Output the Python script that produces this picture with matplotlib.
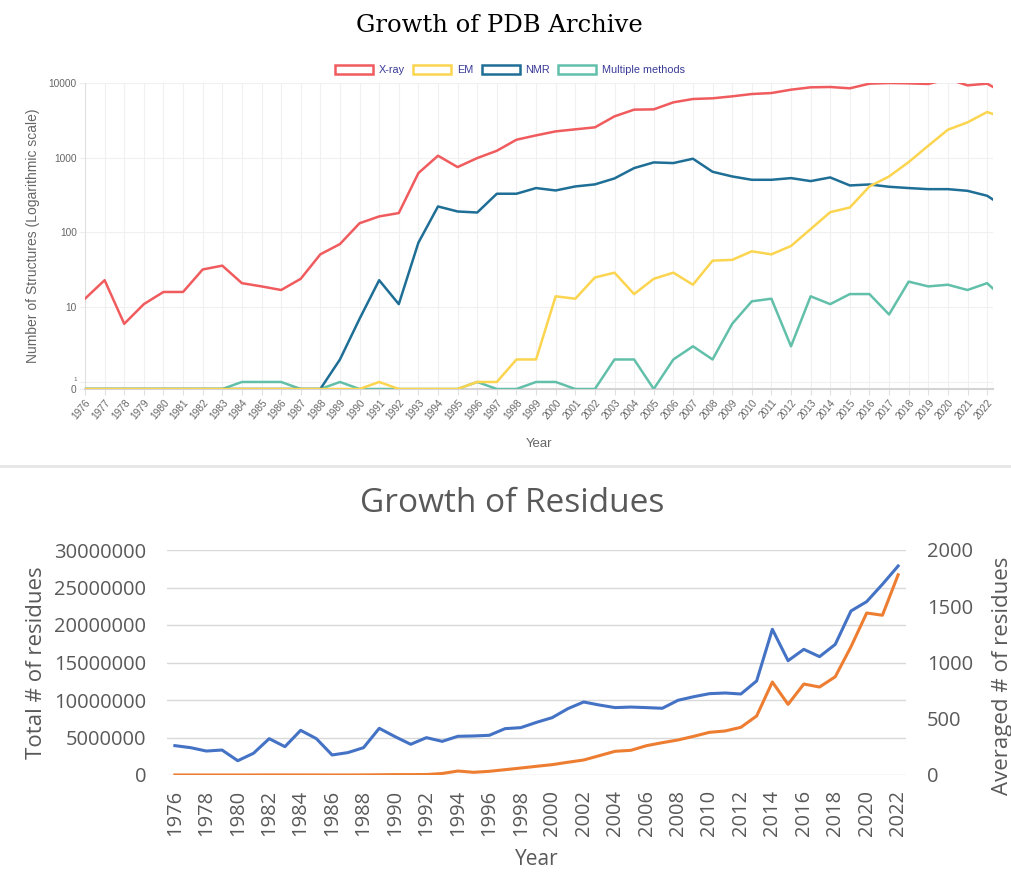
import matplotlib
matplotlib.use("Agg")
import matplotlib.pyplot as plt
import numpy as np
from matplotlib.patches import Patch
from matplotlib.lines import Line2D

# ---- data: PDB archive growth per experimental method ----
years_pdb = list(range(1976, 2024))
xray = [13, 23, 6, 11, 16, 16, 32, 36, 21, 19, 17, 24, 51, 70, 133, 164, 182,
        623, 1064, 750, 990, 1240, 1742, 1991, 2253, 2400, 2550, 3580, 4400, 4440, 5510, 6110, 6240,
        6630, 7120, 7340, 8140, 8750, 8840, 8490, 9800, 10000, 9900, 9700, 11300, 9300, 9800, 7000]
em = [0] * 15 + [1, 0, 0, 0, 0, 1, 1, 2, 2, 14, 13, 25, 29, 15, 24, 29, 20, 42, 43,
                 56, 51, 66, 111, 187, 216, 413, 562, 875, 1448, 2371, 2974, 4090, 3330]
nmr = [0] * 13 + [2, 7, 23, 11, 73, 223, 191, 185, 330, 330, 393, 365, 413, 440, 529, 727,
                  866, 849, 970, 649, 562, 507, 507, 534, 487, 545, 426, 439, 409, 393, 380,
                  380, 361, 310, 210]
multi = [0] * 8 + [1, 1, 1, 0, 0, 1, 0, 0, 0, 0, 0, 0, 1, 0, 0, 1, 1, 0, 0, 2, 2, 0, 2, 3, 2,
                   6, 12, 13, 3, 14, 11, 15, 15, 8, 22, 19, 20, 17, 21, 12]
pdb_ticks = [0, 1, 10, 100, 1000, 10000]

# ---- data: residues ----
years_res = list(range(1976, 2023))
total_res = [3400, 5600, 1300, 2400, 2000, 3100, 10300, 9100, 8700, 6500, 3200, 4800, 12600,
             30000, 48800, 51300, 63100,
             200000, 530000, 360000, 490000, 710000, 930000, 1160000, 1380000, 1700000,
             2000000, 2580000, 3160000, 3290000, 3910000, 4310000, 4670000, 5160000, 5690000,
             5870000, 6360000, 7870000, 12400000, 9420000, 12130000, 11730000, 13100000,
             17100000, 21600000, 21300000, 26700000]
avg_res = [261, 243, 213, 222, 127, 193, 323, 252, 397, 323, 178, 199, 243, 415, 341, 273,
           332, 299, 344, 347, 353, 412, 421, 468, 510, 590,
           649, 622, 599, 604, 599, 593, 664, 696, 723, 729, 720, 836, 1295, 1016, 1117,
           1052, 1161, 1458, 1541, 1695, 1858]

W, H = 1011, 889
fig = plt.figure(figsize=(W / 100, H / 100), dpi=100)


# log scale where 0 sits just below 1 (chart.js style)
def fwd(v):
    v = np.asarray(v, dtype=float)
    return np.where(v >= 1, np.log10(np.maximum(v, 1)), (v - 1) * 0.094)


def inv(y):
    y = np.asarray(y, dtype=float)
    return np.where(y >= 0, 10 ** np.maximum(y, 0), y / 0.094 + 1)


# ================= top chart =================
top_font = "Liberation Sans"
gray = "#666666"
c_xray, c_em, c_nmr, c_multi = "#f05b5e", "#fbd54f", "#1e6e96", "#62c0aa"

ax = fig.add_axes([85 / W, 1 - 389 / H, (993 - 85) / W, (389 - 83) / H])
ax.set_yscale("function", functions=(fwd, inv))
ax.plot(years_pdb, multi, color=c_multi, lw=1.8, zorder=3)
ax.plot(years_pdb, nmr, color=c_nmr, lw=1.8, zorder=4)
ax.plot(years_pdb, em, color=c_em, lw=1.8, zorder=5)
ax.plot(years_pdb, xray, color=c_xray, lw=1.8, zorder=6)

ax.set_xlim(1976, 2022.3)
ax.set_ylim(0, 10000)
ax.set_yticks(pdb_ticks)
ax.set_yticklabels([str(t) for t in pdb_ticks], fontfamily=top_font)
ax.yaxis.set_minor_locator(matplotlib.ticker.NullLocator())
ax.set_xticks(years_pdb[:-1])
ax.set_xticklabels([str(y) for y in years_pdb[:-1]], rotation=50, ha="right",
                   va="top", rotation_mode="anchor", fontfamily=top_font)
ax.tick_params(axis="both", labelsize=7.3, colors=gray, length=4, width=0.8)
ax.tick_params(axis="x", color="#e0e0e0", pad=2)
ax.tick_params(axis="y", color="#eeeeee", pad=2)
# the "1" label is squeezed in just above "0", drawn tiny as in chart.js
one_lbl = ax.get_yticklabels()[1]
one_lbl.set_fontsize(4.5)
one_lbl.set_verticalalignment("bottom")
ax.grid(True, color="#f0f0f0", lw=0.8)
ax.set_axisbelow(True)
for s in ["top", "right"]:
    ax.spines[s].set_visible(False)
ax.spines["left"].set_color("#e0e0e0")
ax.spines["bottom"].set_color("#d4d4d4")
ax.spines["bottom"].set_linewidth(1.5)
ax.set_ylabel("Number of Structures (Logarithmic scale)", fontsize=10, color=gray,
              fontfamily=top_font, labelpad=6)
ax.set_xlabel("Year", fontsize=9.5, color=gray, fontfamily=top_font, labelpad=12)

handles = [Patch(facecolor="white", edgecolor=c, linewidth=1.8, label=l)
           for c, l in [(c_xray, "X-ray"), (c_em, "EM"), (c_nmr, "NMR"),
                        (c_multi, "Multiple methods")]]
leg = fig.legend(handles=handles, loc="center", bbox_to_anchor=(510 / W, 1 - 70 / H),
                 ncol=4, frameon=False, prop={"family": top_font, "size": 7.8},
                 handlelength=3.5, handleheight=0.95, handletextpad=0.5,
                 columnspacing=0.8)
for t in leg.get_texts():
    t.set_color("#3a3a98")

fig.text(499 / W, 1 - 25 / H, "Growth of PDB Archive", ha="center", va="center",
         fontsize=17.5, fontfamily="DejaVu Serif", color="black")

# separator
fig.add_artist(Line2D([0, 1], [1 - 466 / H, 1 - 466 / H], transform=fig.transFigure,
                      color="#e6e6e6", lw=2))

# ================= bottom chart =================
bfont = "Open Sans"
tgray = "#595959"
c_blue, c_orange = "#4472c4", "#ed7d31"

bx = fig.add_axes([167 / W, 1 - 775 / H, (906 - 167) / W, (775 - 550) / H])
bx.plot(years_res, total_res, color=c_orange, lw=2.2, zorder=3)
bx.set_xlim(1975.5, 2022.5)
bx.set_ylim(0, 30000000)
bx.set_yticks(range(0, 30000001, 5000000))
bx.set_yticklabels([str(v) for v in range(0, 30000001, 5000000)], fontfamily=bfont)
bx.set_xticks(years_res[::2])
bx.set_xticklabels([str(y) for y in years_res[::2]], rotation=90, fontfamily=bfont)
bx.tick_params(axis="both", labelsize=14.5, colors=tgray, length=0)
bx.tick_params(axis="y", pad=15)
bx.tick_params(axis="x", pad=11)
bx.grid(axis="y", color="#d9d9d9", lw=1)
bx.set_axisbelow(True)
for s in bx.spines.values():
    s.set_visible(False)
bx.set_ylabel("Total # of residues", fontsize=16, color=tgray, fontfamily=bfont,
              labelpad=5)
bx.set_xlabel("Year", fontsize=15, color=tgray, fontfamily=bfont, labelpad=9)

bx2 = bx.twinx()
bx2.plot(years_res, avg_res, color=c_blue, lw=2.2, zorder=4)
bx2.set_ylim(0, 2000)
bx2.set_yticks(range(0, 2001, 500))
bx2.set_yticklabels([str(v) for v in range(0, 2001, 500)], fontfamily=bfont)
bx2.tick_params(axis="y", labelsize=14.5, colors=tgray, length=0, pad=15)
for s in bx2.spines.values():
    s.set_visible(False)
bx2.set_ylabel("Averaged # of residues", fontsize=16, color=tgray, fontfamily=bfont)
bx2.yaxis.set_label_coords(1.116, 0.44)

fig.text(512 / W, 1 - 503 / H, "Growth of Residues", ha="center", va="center",
         fontsize=24, fontfamily=bfont, color=tgray)

fig.savefig("out.png", dpi=100)
